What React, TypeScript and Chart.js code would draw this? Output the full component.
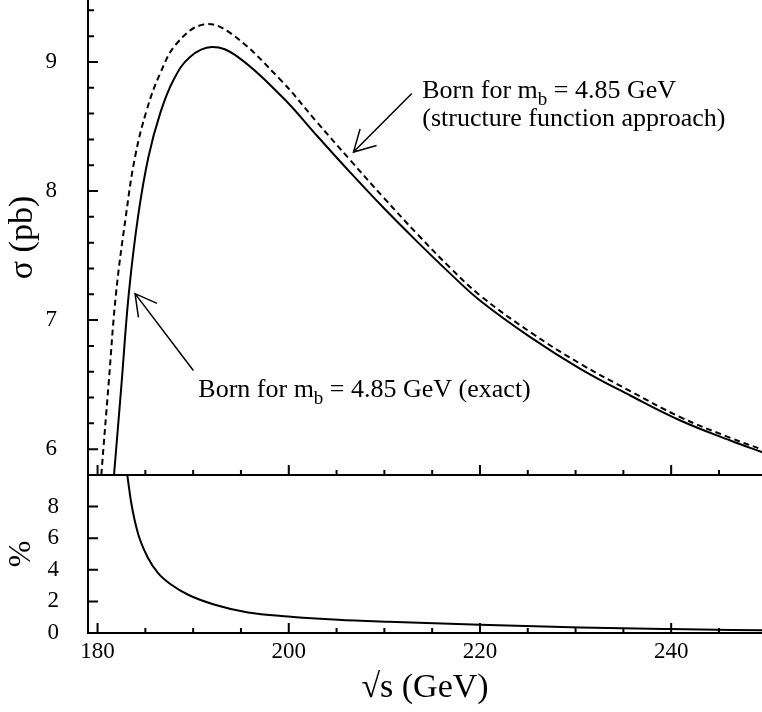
import React, { useEffect, useRef } from "react";
import { Chart, registerables } from "chart.js";

Chart.register(...registerables);

const FONT = '"Liberation Serif", "Times New Roman", "DejaVu Serif", serif';

// ---- Top panel: Born cross section sigma (pb) vs sqrt(s) (GeV) ----
const exactX = [181.72, 182.5, 183.26, 184.23, 185.31, 186.54, 187.93, 189.67, 191.95, 194.56, 199.3, 202.93, 206.42, 209.91, 213.4, 216.89, 220.03, 225.26, 230.49, 235.72, 240.96, 246.19, 249.6];
const exactY = [5.8, 6.5, 7.2, 7.8, 8.26, 8.6, 8.858, 9.039, 9.116, 9.045, 8.73, 8.43, 8.145, 7.87, 7.61, 7.36, 7.15, 6.868, 6.623, 6.416, 6.222, 6.067, 5.975];

const sfX = [180.39, 181.15, 181.93, 182.95, 183.92, 185.14, 186.54, 188.28, 191.07, 193.86, 199.09, 202.93, 206.42, 209.91, 213.4, 216.89, 220.03, 225.26, 230.49, 235.72, 240.96, 246.19, 249.6];
const sfY = [5.8, 6.5, 7.205, 7.8, 8.264, 8.626, 8.91, 9.143, 9.29, 9.225, 8.865, 8.535, 8.24, 7.95, 7.67, 7.405, 7.19, 6.907, 6.662, 6.45, 6.248, 6.088, 5.995];

// ---- Bottom panel: relative difference (%) ----
const diffX = [183.11, 183.53, 184.23, 185.28, 186.33, 187.72, 189.47, 192.26, 195.75, 199.93, 205.16, 210.4, 220.03, 230.5, 239.9, 249.6];
const diffY = [10, 8.21, 6.3, 4.75, 3.79, 3.05, 2.42, 1.79, 1.3, 1.05, 0.84, 0.71, 0.52, 0.35, 0.25, 0.17];

// ---- Tick labels ----
const xTickLabels = [180, 200, 220, 240];
const topYTickLabels = [6, 7, 8, 9];
const botYTickLabels = [0, 2, 4, 6, 8];

// ---- Annotations (data coordinates of top panel) ----
const arrowSF = [212.87, 8.755, 206.77, 8.302]; // tail x, tail y, head x, head y
const arrowExact = [190.02, 6.61, 183.92, 7.205];
const labelSF = [213.96, 8.719, 8.504]; // x, baseline y line 1, baseline y line 2
const labelExact = [190.54, 6.403];
const labelParts = ["Born for m", "b", " = 4.85 GeV"];
const labelSFLine2 = "(structure function approach)";
const labelExactSuffix = " (exact)";

const X_MIN = 179;
const X_MAX = 249.5;

type Mark = { v: number; len: number };

function xMarks(): Mark[] {
  const out: Mark[] = [];
  for (let v = 180; v <= 245; v += 5) out.push({ v, len: v % 20 === 0 ? 10 : 5 });
  return out;
}

function frameTicksPlugin(xm: Mark[], ym: Mark[]) {
  return {
    id: "frameTicks",
    afterDatasetsDraw(chart: any) {
      const { ctx, chartArea: a, scales } = chart;
      ctx.save();
      ctx.strokeStyle = "#000";
      ctx.lineWidth = 2;
      ctx.beginPath();
      ctx.moveTo(a.left, a.top);
      ctx.lineTo(a.left, a.bottom);
      ctx.lineTo(a.right + 2, a.bottom);
      ctx.stroke();
      ctx.beginPath();
      for (const m of xm) {
        const p = scales.x.getPixelForValue(m.v);
        ctx.moveTo(p, a.bottom);
        ctx.lineTo(p, a.bottom - m.len);
      }
      for (const m of ym) {
        const p = scales.y.getPixelForValue(m.v);
        ctx.moveTo(a.left, p);
        ctx.lineTo(a.left + m.len, p);
      }
      ctx.stroke();
      ctx.restore();
    },
  };
}

function drawArrow(ctx: CanvasRenderingContext2D, x1: number, y1: number, x2: number, y2: number) {
  const ang = Math.atan2(y1 - y2, x1 - x2);
  const L = 24;
  const w = (29 * Math.PI) / 180;
  ctx.beginPath();
  ctx.moveTo(x1, y1);
  ctx.lineTo(x2, y2);
  ctx.moveTo(x2 + L * Math.cos(ang - w), y2 + L * Math.sin(ang - w));
  ctx.lineTo(x2, y2);
  ctx.lineTo(x2 + L * Math.cos(ang + w), y2 + L * Math.sin(ang + w));
  ctx.stroke();
}

function drawBorn(ctx: CanvasRenderingContext2D, x: number, y: number, suffix: string) {
  ctx.textAlign = "left";
  ctx.textBaseline = "alphabetic";
  ctx.font = `26px ${FONT}`;
  ctx.fillText(labelParts[0], x, y);
  let cx = x + ctx.measureText(labelParts[0]).width;
  ctx.font = `19px ${FONT}`;
  ctx.fillText(labelParts[1], cx, y + 7);
  cx += ctx.measureText(labelParts[1]).width;
  ctx.font = `26px ${FONT}`;
  ctx.fillText(labelParts[2] + suffix, cx, y);
}

const notesPlugin = {
  id: "notes",
  afterDatasetsDraw(chart: any) {
    const { ctx, scales } = chart;
    const px = (v: number) => scales.x.getPixelForValue(v);
    const py = (v: number) => scales.y.getPixelForValue(v);
    ctx.save();
    ctx.strokeStyle = "#000";
    ctx.fillStyle = "#000";
    ctx.lineWidth = 1.5;
    drawArrow(ctx, px(arrowSF[0]), py(arrowSF[1]), px(arrowSF[2]), py(arrowSF[3]));
    drawArrow(ctx, px(arrowExact[0]), py(arrowExact[1]), px(arrowExact[2]), py(arrowExact[3]));
    drawBorn(ctx, px(labelSF[0]), py(labelSF[1]), "");
    ctx.font = `26px ${FONT}`;
    ctx.fillText(labelSFLine2, px(labelSF[0]), py(labelSF[2]));
    drawBorn(ctx, px(labelExact[0]), py(labelExact[1]), labelExactSuffix);
    ctx.restore();
  },
};

const zeroPad = (s: any) => {
  s.paddingTop = 0;
  s.paddingBottom = 0;
  s.paddingLeft = 0;
  s.paddingRight = 0;
};

const pts = (xs: number[], ys: number[]) => xs.map((x, i) => ({ x, y: ys[i] }));

export default function App() {
  const topRef = useRef<HTMLCanvasElement>(null);
  const botRef = useRef<HTMLCanvasElement>(null);

  useEffect(() => {
    const xm = xMarks();
    const topYm: Mark[] = [];
    for (let i = 30; i <= 47; i++) {
      const v = i / 5;
      topYm.push({ v, len: i % 5 === 0 ? 10 : 6 });
    }
    const botYm: Mark[] = [2, 4, 6, 8].map((v) => ({ v, len: 10 }));

    const top = new Chart(topRef.current!, {
      type: "line",
      data: {
        datasets: [
          {
            label: "Born exact",
            data: pts(exactX, exactY),
            borderColor: "#000",
            borderWidth: 2,
            pointRadius: 0,
            fill: false,
            tension: 0.4,
          },
          {
            label: "Born structure function",
            data: pts(sfX, sfY),
            borderColor: "#000",
            borderWidth: 2,
            borderDash: [6, 4],
            pointRadius: 0,
            fill: false,
            tension: 0.4,
          },
        ],
      },
      options: {
        responsive: false,
        animation: false,
        layout: { padding: 0 },
        plugins: { legend: { display: false }, tooltip: { enabled: false } },
        scales: {
          x: {
            type: "linear",
            min: X_MIN,
            max: X_MAX,
            ticks: { display: false },
            grid: { display: false, drawTicks: false },
            border: { display: false },
            afterFit: (s: any) => {
              s.height = 2;
              zeroPad(s);
            },
          },
          y: {
            type: "linear",
            min: 5.8,
            max: 9.48,
            afterBuildTicks: (s: any) => {
              s.ticks = topYTickLabels.map((v) => ({ value: v }));
            },
            ticks: { color: "#000", font: { family: FONT, size: 23 }, padding: 31 },
            grid: { display: false, drawTicks: false },
            border: { display: false },
            title: {
              display: true,
              text: "σ (pb)",
              color: "#000",
              font: { family: FONT, size: 34 },
              padding: { top: 3, bottom: 0 },
            },
            afterFit: (s: any) => {
              s.width = 88;
              zeroPad(s);
            },
          },
        },
      } as any,
      plugins: [frameTicksPlugin(xm, topYm), notesPlugin],
    });

    const bot = new Chart(botRef.current!, {
      type: "line",
      data: {
        datasets: [
          {
            label: "difference",
            data: pts(diffX, diffY),
            borderColor: "#000",
            borderWidth: 2,
            pointRadius: 0,
            fill: false,
            cubicInterpolationMode: "monotone",
          },
        ],
      },
      options: {
        responsive: false,
        animation: false,
        layout: { padding: { top: 1, left: 0, right: 0, bottom: 0 } },
        plugins: { legend: { display: false }, tooltip: { enabled: false } },
        scales: {
          x: {
            type: "linear",
            min: X_MIN,
            max: X_MAX,
            afterBuildTicks: (s: any) => {
              s.ticks = xTickLabels.map((v) => ({ value: v }));
            },
            ticks: {
              color: "#000",
              font: { family: FONT, size: 23 },
              padding: 5,
              autoSkip: false,
              maxRotation: 0,
            },
            grid: { display: false, drawTicks: false },
            border: { display: false },
            title: {
              display: true,
              text: "√s (GeV)",
              color: "#000",
              font: { family: FONT, size: 34 },
              padding: { top: 0, bottom: 4 },
            },
            afterFit: (s: any) => {
              s.height = 79;
              zeroPad(s);
            },
          },
          y: {
            type: "linear",
            min: 0,
            max: 10,
            afterBuildTicks: (s: any) => {
              s.ticks = botYTickLabels.map((v) => ({ value: v }));
            },
            ticks: { color: "#000", font: { family: FONT, size: 23 }, padding: 29 },
            grid: { display: false, drawTicks: false },
            border: { display: false },
            title: {
              display: true,
              text: "%",
              color: "#000",
              font: { family: FONT, size: 32 },
              padding: { top: 2, bottom: 0 },
            },
            afterFit: (s: any) => {
              s.width = 88;
              zeroPad(s);
            },
          },
        },
      } as any,
      plugins: [frameTicksPlugin(xm, botYm)],
    });

    return () => {
      top.destroy();
      bot.destroy();
    };
  }, []);

  return (
    <div style={{ position: "absolute", left: 0, top: 0, width: 762, height: 712, background: "#fff", overflow: "hidden" }}>
      <canvas
        ref={topRef}
        width={762}
        height={477}
        style={{ position: "absolute", left: 0, top: 0, width: 762, height: 477 }}
      />
      <canvas
        ref={botRef}
        width={762}
        height={238}
        style={{ position: "absolute", left: 0, top: 474, width: 762, height: 238 }}
      />
    </div>
  );
}
